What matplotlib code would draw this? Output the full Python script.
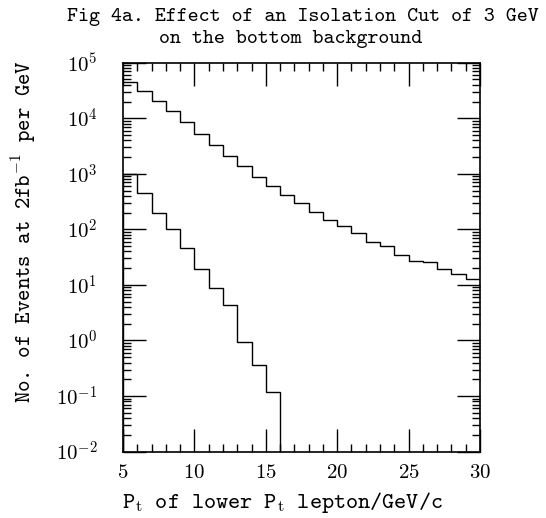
import numpy as np
import matplotlib
matplotlib.use("Agg")
import matplotlib.pyplot as plt
from matplotlib.ticker import LogLocator, FixedLocator, MultipleLocator, FuncFormatter, NullFormatter

# Data: bin edges (GeV) and per-bin values
edges_upper = np.arange(5, 31, 1)
upper = [45000, 30500, 20700, 13500, 8570, 5280, 3350, 2100, 1370, 880,
         600, 408, 293, 207, 145, 113, 84.7, 60, 49.4, 35,
         26.8, 25.7, 19, 15.6, 12.9]
edges_lower = np.arange(5, 17, 1)
lower = [1000, 453, 200, 100, 45.4, 19.5, 8.7, 4.28, 0.95, 0.36, 0.118]

title_lines = ["Fig 4a. Effect of an Isolation Cut of 3 GeV", "on the bottom background"]
xlabel = r"P$_{\rm t}$ of lower P$_{\rm t}$ lepton/GeV/c"
ylabel = r"No. of Events at 2fb$^{-1}$ per GeV"

plt.rcParams['mathtext.fontset'] = 'cm'
plt.rcParams['axes.unicode_minus'] = False
plt.rcParams['font.family'] = ['cmtt10', 'DejaVu Sans']

W, H = 546, 518
fig = plt.figure(figsize=(W/100, H/100), dpi=100)
ax = fig.add_axes([123/W, 1-451.6/H, (480-123)/W, (451.6-62.7)/H])

ax.stairs(upper, edges_upper, baseline=None, color='black', lw=1.0)
ax.stairs(lower, edges_lower, baseline=1e-3, color='black', lw=1.0)

ax.set_xlim(5, 30)
ax.set_yscale('log')
ax.set_ylim(1e-2, 1e5)

ax.xaxis.set_major_locator(MultipleLocator(5))
ax.xaxis.set_minor_locator(MultipleLocator(1))
ax.yaxis.set_major_locator(FixedLocator([10.0**k for k in range(-2, 6)]))
ax.yaxis.set_minor_locator(LogLocator(base=10, subs=np.arange(2, 10), numticks=20))
ax.yaxis.set_minor_formatter(NullFormatter())
ax.yaxis.set_major_formatter(FuncFormatter(lambda v, p: r"$10^{%d}$" % int(round(np.log10(v)))))
ax.xaxis.set_major_formatter(FuncFormatter(lambda v, p: r"$%d$" % int(round(v))))

ax.tick_params(which='both', direction='in', top=True, right=True, width=1.0, color='black')
ax.tick_params(which='major', length=16.5, labelsize=15)
ax.tick_params(axis='y', which='major', pad=18.5)
ax.tick_params(axis='x', which='major', pad=9.5)
ax.tick_params(which='minor', length=6)
for s in ax.spines.values():
    s.set_linewidth(1.2)

t_x = fig.text(122/W, 1-508/H, xlabel, ha='left', va='baseline', fontsize=16)
t_y = fig.text(24/W, 1-231.5/H, ylabel, ha='center', va='center', rotation=90, fontsize=16)
t_1 = fig.text(68/W, 1-20.7/H, title_lines[0], ha='left', va='baseline', fontsize=16)
t_2 = fig.text(140/W, 1-42.5/H, title_lines[1], ha='left', va='baseline', fontsize=16)

# fit text sizes to the reference extents (pixels)
renderer = fig.canvas.get_renderer()
def fit(t, target, vertical=False):
    for _ in range(3):
        bb = t.get_window_extent(renderer=renderer)
        cur = bb.height if vertical else bb.width
        t.set_fontsize(t.get_fontsize() * target / cur)

fit(t_1, 470)
t_2.set_fontsize(t_1.get_fontsize())
bb1 = t_1.get_window_extent(renderer=renderer)
t_1.set_position(((303 - bb1.width/2)/W, 1-20.7/H))
bb2 = t_2.get_window_extent(renderer=renderer)
t_2.set_position(((291 - bb2.width/2)/W, 1-42.5/H))
fit(t_x, 321)
fit(t_y, 343, vertical=True)

fig.savefig("out.png", dpi=100)
